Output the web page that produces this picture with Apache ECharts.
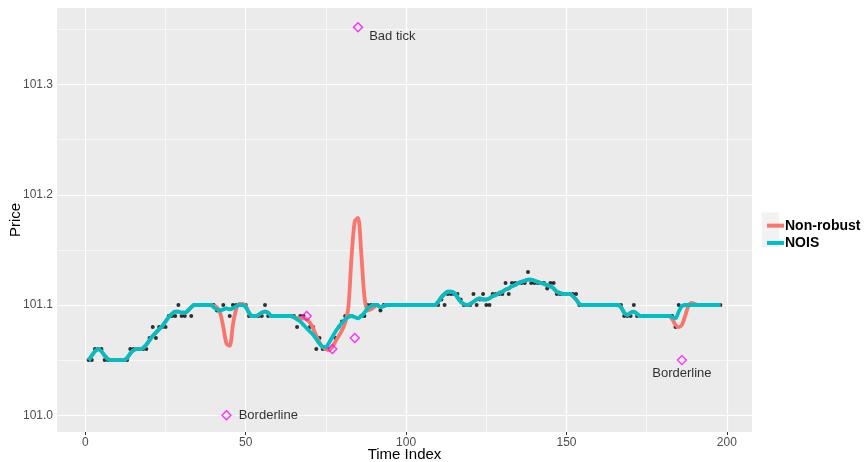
<!DOCTYPE html>
<html><head><meta charset="utf-8">
<script src="https://cdn.jsdelivr.net/npm/echarts@6/dist/echarts.min.js"></script>
<style>html,body{margin:0;padding:0;background:#fff}#c{width:864px;height:462px}</style>
</head><body><div id="c"></div>
<script>
// Observed tick prices, time index 1..198
const price = [
 101.05,101.05,101.06,101.06,101.06,101.05,101.05,101.05,101.05,101.05,
 101.05,101.05,101.05,101.06,101.06,101.06,101.06,101.06,101.06,101.07,
 101.08,101.07,101.08,101.08,101.08,101.09,101.09,101.09,101.10,101.09,
 101.09,101.095,101.09,101.10,101.10,101.10,101.10,101.10,101.10,101.10,
 101.095,101.095,101.10,101.00,101.09,101.10,101.10,101.10,101.10,101.10,
 101.09,101.09,101.09,101.09,101.09,101.10,101.09,101.09,101.09,101.09,
 101.09,101.09,101.09,101.09,101.09,101.08,101.09,101.09,101.09,101.08,
 101.08,101.06,101.07,101.06,101.06,101.06,101.06,101.07,101.08,101.085,
 101.09,101.09,101.09,101.07,101.352,101.09,101.09,101.10,101.10,101.10,
 101.10,101.095,101.10,101.10,101.10,101.10,101.10,101.10,101.10,101.10,
 101.10,101.10,101.10,101.10,101.10,101.10,101.10,101.10,101.10,101.10,
 101.105,101.10,101.11,101.11,101.11,101.11,101.105,101.10,101.10,101.10,
 101.11,101.10,101.105,101.11,101.10,101.10,101.11,101.11,101.11,101.11,
 101.12,101.11,101.12,101.12,101.12,101.12,101.12,101.13,101.12,101.12,
 101.12,101.12,101.12,101.115,101.12,101.12,101.11,101.11,101.11,101.11,
 101.11,101.11,101.11,101.10,101.10,101.10,101.10,101.10,101.10,101.10,
 101.10,101.10,101.10,101.10,101.10,101.10,101.10,101.09,101.09,101.09,
 101.10,101.09,101.09,101.09,101.09,101.09,101.09,101.09,101.09,101.09,
 101.09,101.09,101.09,101.08,101.10,101.05,101.10,101.10,101.10,101.10,
 101.10,101.10,101.10,101.10,101.10,101.10,101.10,101.10
];
// Flagged ticks
const outlierTime = [44, 69, 77, 84, 85, 186];
const outlierNote = ['Borderline', '', '', '', 'Bad tick', 'Borderline'];
// Smoothed series
const nonRobust = [
 101.050,101.054,101.058,101.060,101.058,101.054,101.051,101.050,101.050,101.050,
 101.050,101.050,101.052,101.056,101.059,101.060,101.060,101.061,101.064,101.068,
 101.072,101.075,101.078,101.081,101.085,101.089,101.092,101.094,101.094,101.093,
 101.093,101.095,101.098,101.100,101.100,101.100,101.100,101.100,101.100,101.099,
 101.098,101.093,101.080,101.065,101.063,101.082,101.096,101.101,101.101,101.099,
 101.093,101.090,101.090,101.091,101.093,101.094,101.093,101.090,101.090,101.090,
 101.090,101.090,101.090,101.090,101.089,101.088,101.088,101.088,101.087,101.084,
 101.079,101.072,101.066,101.062,101.060,101.059,101.062,101.067,101.072,101.077,
 101.084,101.098,101.144,101.176,101.179,101.148,101.108,101.095,101.096,101.098,
 101.100,101.098,101.099,101.100,101.100,101.100,101.100,101.100,101.100,101.100,
 101.100,101.100,101.100,101.100,101.100,101.100,101.100,101.100,101.100,101.103,
 101.107,101.110,101.112,101.112,101.111,101.107,101.103,101.101,101.100,101.101,
 101.103,101.105,101.106,101.105,101.105,101.106,101.108,101.109,101.111,101.112,
 101.114,101.115,101.117,101.118,101.120,101.121,101.122,101.123,101.123,101.122,
 101.121,101.120,101.119,101.118,101.117,101.115,101.112,101.111,101.110,101.110,
 101.110,101.108,101.105,101.101,101.100,101.100,101.100,101.100,101.100,101.100,
 101.100,101.100,101.100,101.100,101.100,101.100,101.098,101.093,101.091,101.093,
 101.094,101.092,101.090,101.090,101.090,101.090,101.090,101.090,101.090,101.090,
 101.090,101.090,101.087,101.082,101.080,101.082,101.090,101.099,101.102,101.101,
 101.100,101.100,101.100,101.100,101.100,101.100,101.100,101.100
];
const nois = [
 101.050,101.054,101.058,101.060,101.058,101.054,101.051,101.050,101.050,101.050,
 101.050,101.050,101.052,101.056,101.059,101.060,101.060,101.061,101.064,101.068,
 101.072,101.075,101.078,101.081,101.085,101.089,101.092,101.094,101.094,101.093,
 101.093,101.095,101.098,101.100,101.100,101.100,101.100,101.100,101.100,101.098,
 101.096,101.095,101.096,101.097,101.096,101.097,101.099,101.100,101.100,101.098,
 101.093,101.090,101.090,101.091,101.093,101.094,101.093,101.090,101.090,101.090,
 101.090,101.090,101.090,101.090,101.089,101.087,101.085,101.082,101.079,101.076,
 101.073,101.069,101.065,101.062,101.062,101.066,101.071,101.076,101.080,101.084,
 101.087,101.089,101.090,101.089,101.088,101.090,101.093,101.097,101.099,101.100,
 101.100,101.098,101.099,101.100,101.100,101.100,101.100,101.100,101.100,101.100,
 101.100,101.100,101.100,101.100,101.100,101.100,101.100,101.100,101.100,101.103,
 101.107,101.110,101.112,101.112,101.111,101.107,101.103,101.101,101.100,101.101,
 101.103,101.105,101.106,101.105,101.105,101.106,101.108,101.109,101.111,101.112,
 101.114,101.115,101.117,101.118,101.120,101.121,101.122,101.123,101.123,101.122,
 101.121,101.120,101.119,101.118,101.117,101.115,101.112,101.111,101.110,101.110,
 101.110,101.108,101.105,101.101,101.100,101.100,101.100,101.100,101.100,101.100,
 101.100,101.100,101.100,101.100,101.100,101.100,101.098,101.093,101.091,101.093,
 101.094,101.092,101.090,101.090,101.090,101.090,101.090,101.090,101.090,101.090,
 101.090,101.090,101.089,101.088,101.094,101.099,101.100,101.100,101.100,101.100,
 101.100,101.100,101.100,101.100,101.100,101.100,101.100,101.100
];
// Axis breaks
const xBreaks = [0, 50, 100, 150, 200];
const xMinorBreaks = [25, 75, 125, 175];
const yBreaks = [101.0, 101.1, 101.2, 101.3];
const yMinorBreaks = [101.05, 101.15, 101.25, 101.35];
const seriesNames = ['Non-robust', 'NOIS'];

const FONT = '"Liberation Sans", Arial, Helvetica, sans-serif';
const RED = '#F8766D', TEAL = '#00BFC4';

const outSet = new Set(outlierTime);
const dots = [];
price.forEach((v, i) => { if (!outSet.has(i + 1)) dots.push([i + 1, v]); });
const redData = nonRobust.map((v, i) => [i + 1, v]);
const tealData = nois.map((v, i) => [i + 1, v]);

const outData = outlierTime.map((t, i) => {
  const txt = outlierNote[i];
  let lab = { show: false };
  if (txt) {
    lab = { show: true, formatter: txt, color: '#000', fontSize: 13, fontFamily: FONT };
    if (txt === 'Bad tick') Object.assign(lab, { position: 'right', distance: 6, offset: [0, 9] });
    else if (i === 0) Object.assign(lab, { position: 'right', distance: 7 });
    else Object.assign(lab, { position: 'bottom', distance: 2 });
  }
  return { value: [t, price[t - 1]], label: lab };
});

const gridLines = [];
xBreaks.forEach(v => gridLines.push({ xAxis: v, lineStyle: { width: 1.2 } }));
xMinorBreaks.forEach(v => gridLines.push({ xAxis: v, lineStyle: { width: 0.6 } }));
yBreaks.forEach(v => gridLines.push({ yAxis: v, lineStyle: { width: 1.2 } }));
yMinorBreaks.forEach(v => gridLines.push({ yAxis: v, lineStyle: { width: 0.6 } }));

const chart = echarts.init(document.getElementById('c'), null, { renderer: 'canvas' });
chart.setOption({
  animation: false,
  backgroundColor: '#fff',
  grid: { left: 57, right: 112, top: 8, bottom: 30, show: true, backgroundColor: '#EBEBEB', borderWidth: 0,
    containLabel: false, outerBoundsMode: 'none' },
  xAxis: {
    type: 'value', min: -8.85, max: 207.85,
    name: 'Time Index', nameLocation: 'middle', nameGap: 15, nameMoveOverlap: false,
    nameTextStyle: { fontSize: 15, color: '#000', fontFamily: FONT },
    axisLine: { show: false },
    axisTick: { show: true, length: 3, lineStyle: { color: '#333', width: 1 }, customValues: xBreaks },
    axisLabel: { customValues: xBreaks, color: '#4D4D4D', fontSize: 12, fontFamily: FONT, margin: 5,
      formatter: v => (xBreaks.includes(v) ? String(v) : '') },
    splitLine: { show: false }
  },
  yAxis: {
    type: 'value', min: 100.9848, max: 101.3694,
    name: 'Price', nameLocation: 'middle', nameGap: 34, nameRotate: 90, nameMoveOverlap: false,
    nameTextStyle: { fontSize: 15, color: '#000', fontFamily: FONT },
    axisLine: { show: false },
    axisTick: { show: true, length: 3, lineStyle: { color: '#333', width: 1 }, customValues: yBreaks },
    axisLabel: { customValues: yBreaks, color: '#4D4D4D', fontSize: 12, fontFamily: FONT, margin: 4,
      formatter: v => (yBreaks.some(b => Math.abs(b - v) < 1e-6) ? v.toFixed(1) : '') },
    splitLine: { show: false }
  },
  legend: {
    orient: 'vertical', left: 762, top: 212, itemGap: 0, itemWidth: 17, itemHeight: 4,
    icon: 'rect', selectedMode: false,
    data: seriesNames,
    textStyle: { fontSize: 14, fontWeight: 'bold', color: '#000', fontFamily: FONT, lineHeight: 17.3, padding: [0, 0, 0, -4] },
    z: 10
  },
  graphic: [
    { type: 'rect', left: 761.7, top: 212.4, z: 1, shape: { width: 17.3, height: 17.3 }, style: { fill: '#F2F2F2' } },
    { type: 'rect', left: 761.7, top: 229.7, z: 1, shape: { width: 17.3, height: 17.3 }, style: { fill: '#F2F2F2' } }
  ],
  series: [
    { type: 'line', name: '_grid', data: [], silent: true, z: 1,
      markLine: { silent: true, z: 1, symbol: 'none', label: { show: false }, animation: false,
        lineStyle: { color: '#fff', type: 'solid' }, emphasis: { disabled: true }, data: gridLines } },
    { type: 'scatter', name: 'ticks', data: dots, symbol: 'circle', symbolSize: 4,
      itemStyle: { color: '#000' }, z: 2, silent: true },
    { type: 'line', name: seriesNames[0], data: redData, color: RED, showSymbol: false, symbol: 'none',
      smooth: 0.3, lineStyle: { color: RED, width: 3.8 }, z: 3, silent: true },
    { type: 'line', name: seriesNames[1], data: tealData, color: TEAL, showSymbol: false, symbol: 'none',
      smooth: 0.3, lineStyle: { color: TEAL, width: 3.8 }, z: 4, silent: true },
    { type: 'scatter', name: 'flagged', data: outData, symbol: 'diamond', symbolSize: 9,
      itemStyle: { color: 'rgba(0,0,0,0)', borderColor: '#FF00FF', borderWidth: 1.4 }, z: 6, silent: true }
  ]
});
</script>
</body></html>
